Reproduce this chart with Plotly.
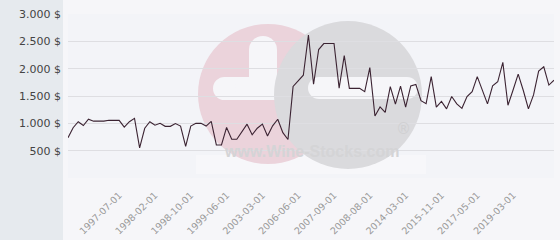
import plotly.graph_objects as go

# ---------------- data ----------------
prices = [735, 920, 1030, 960, 1075, 1040, 1040, 1040, 1055, 1050,
          1055, 930, 1030, 1090, 550, 910, 1030, 965, 1000, 945,
          945, 995, 950, 580, 950, 1000, 1000, 950, 1035, 605,
          605, 925, 710, 710, 850, 985, 790, 910, 985, 770,
          955, 1075, 830, 705, 1675, 1780, 1880, 2615, 1715, 2350,
          2460, 2460, 2460, 1645, 2240, 1640, 1640, 1640, 1580, 2020,
          1135, 1300, 1200, 1670, 1350, 1680, 1295, 1685, 1710, 1415,
          1360, 1855, 1295, 1400, 1265, 1490, 1355, 1275, 1490, 1580,
          1855, 1610, 1355, 1685, 1760, 2115, 1330, 1610, 1900, 1600,
          1265, 1520, 1955, 2035, 1700, 1790]
x_index = list(range(len(prices)))
x_tick_index = [10, 17, 24, 31, 38, 45, 52, 59, 66, 73, 80, 87]
x_tick_labels = ["1997-07-01", "1998-02-01", "1998-10-01", "1999-06-01",
                 "2003-03-01", "2006-06-01", "2007-09-01", "2008-08-01",
                 "2014-03-01", "2015-11-01", "2017-05-01", "2019-03-01"]
y_tick_values = [0, 500, 1000, 1500, 2000, 2500, 3000]
y_tick_labels = ["", "500 $", "1.000 $", "1.500 $", "2.000 $", "2.500 $", "3.000 $"]

# ---------------- layout geometry (pixels) ----------------
W, H = 560, 240
ML, MR, MT, MB = 68, 6, 14, 62
PW, PH = W - ML - MR, H - MT - MB


def px(x):
    return (x - ML) / PW


def py(y):
    return (H - MB - y) / PH


def rect(x0, y0, x1, y1, color, kind="rect"):
    return dict(type=kind, xref="paper", yref="paper", layer="below",
                x0=px(x0), x1=px(x1), y0=py(y1), y1=py(y0),
                fillcolor=color, line=dict(width=0))


def bar(x0, y0, x1, y1, color):
    r = (y1 - y0) / 2
    return [rect(x0 + r, y0, x1 - r, y1, color),
            rect(x0, y0, x0 + 2 * r, y1, color, "circle"),
            rect(x1 - 2 * r, y0, x1, y1, color, "circle")]


def vbar(x0, y0, x1, y1, color):
    r = (x1 - x0) / 2
    return [rect(x0, y0 + r, x1, y1, color),
            rect(x0, y0, x1, y0 + 2 * r, color, "circle")]


PINK = "#ebd3db"
GREY = "#dadadd"
WHITE = "#f6f6f9"

shapes = []
# left grey panel
shapes.append(rect(0, 0, 63, H, "#e6eaee"))
# watermark
shapes.append(rect(196, 155, 426, 174, "#f7f7fa"))
shapes.append(rect(198, 24, 338, 164, PINK, "circle"))
shapes += vbar(249, 36, 277, 100, WHITE)
shapes += bar(213, 77, 300, 100, WHITE)
shapes.append(rect(274, 21, 422, 169, GREY, "circle"))
shapes += bar(308, 77, 418, 99, WHITE)

fig = go.Figure()
fig.add_trace(go.Scatter(x=x_index, y=prices, mode="lines",
                         line=dict(color="#3b2332", width=1.1),
                         hoverinfo="skip"))

fig.update_layout(
    width=W, height=H,
    margin=dict(l=ML, r=MR, t=MT, b=MB, pad=0, autoexpand=False),
    paper_bgcolor="#f6f6f9",
    plot_bgcolor="#f3f4f8",
    showlegend=False,
    shapes=shapes,
    font=dict(family="DejaVu Sans"),
    annotations=[
        dict(text="www.Wine-Stocks.com", xref="paper", yref="paper",
             x=px(311), y=py(162), showarrow=False,
             font=dict(family="Liberation Sans", size=16, color="#d4d4d6",
                       weight="bold")),
        dict(text="®", xref="paper", yref="paper",
             x=px(413), y=py(140), showarrow=False,
             font=dict(family="DejaVu Sans", size=15, color="#d0d0d2")),
    ],
    xaxis=dict(range=[0, len(prices) - 1], tickmode="array",
               tickvals=x_tick_index, ticktext=x_tick_labels,
               tickangle=-45, showgrid=False, zeroline=False,
               showline=False, ticks="outside", ticklen=7,
               tickcolor="rgba(0,0,0,0)", automargin=False,
               tickfont=dict(size=9.5, color="#9a9a9a", family="DejaVu Sans")),
    yaxis=dict(range=[0, 3000], tickmode="array",
               tickvals=y_tick_values, ticktext=y_tick_labels,
               showgrid=True, gridcolor="#dedee2", gridwidth=1,
               zeroline=False, showline=False, ticks="",
               ticklabelstandoff=6, automargin=False,
               tickfont=dict(size=11, color="#444444", family="DejaVu Sans")),
)

fig.write_html("out.html")
